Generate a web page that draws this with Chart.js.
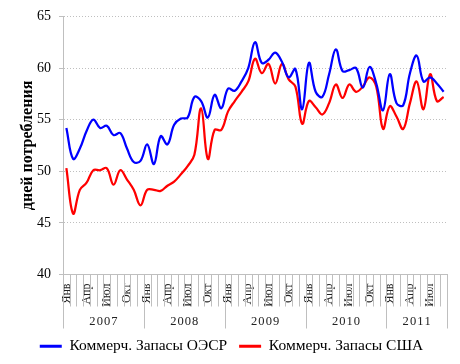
<!DOCTYPE html>
<html>
<head>
<meta charset="utf-8">
<script src="https://cdn.jsdelivr.net/npm/chart.js@4/dist/chart.umd.min.js"></script>
<style>
  html, body { margin: 0; padding: 0; background: #fff; }
</style>
</head>
<body>
<canvas id="chart" width="460" height="364"></canvas>
<script>
// month / year tick labels
var months = ['Янв', 'Фев', 'Мар', 'Апр', 'Май', 'Июн', 'Июл', 'Авг', 'Сен', 'Окт', 'Ноя', 'Дек'];
var years = ['2007', '2008', '2009', '2010', '2011'];
var monthsIn2011 = 9;

// series values, days of consumption (Jan 2007 .. Sep 2011)
var oecdStocks = [
    54.2, 51.2, 52.2, 53.9, 55.0, 54.2, 54.4, 53.5, 53.7, 52.2, 50.9, 51.0,
    52.6, 50.7, 53.4, 52.6, 54.5, 55.1, 55.2, 57.2, 56.8, 55.2, 57.4, 56.1,
    58.0, 57.8, 58.7, 60.0, 62.5, 60.5, 60.8, 61.5, 60.6, 59.1, 59.9, 56.0,
    60.5, 57.7, 57.2, 59.4, 61.8, 59.7, 59.8, 60.0, 58.1, 60.1, 58.5, 55.9,
    59.4, 56.6, 56.4, 59.5, 61.2, 58.7, 59.1, 58.5, 57.7
];
var usStocks = [
    50.3, 45.9, 48.2, 48.9, 50.1, 50.1, 50.3, 48.7, 50.1, 49.2, 48.2, 46.7,
    48.2, 48.2, 48.1, 48.6, 49.0, 49.7, 50.5, 51.6, 56.1, 51.2, 54.0, 54.0,
    55.8, 56.8, 57.7, 58.7, 60.9, 59.5, 60.4, 58.5, 60.4, 58.9, 58.2, 54.6,
    56.8, 56.2, 55.5, 56.6, 58.4, 57.1, 58.4, 57.7, 58.2, 59.1, 58.2, 54.1,
    56.3, 55.3, 54.1, 56.6, 58.7, 56.0, 59.4, 56.8, 57.2
];

var labels = [];
years.forEach(function (y, yi) {
    var n = (yi === years.length - 1) ? monthsIn2011 : 12;
    for (var m = 0; m < n; m++) labels.push(months[m] + ' ' + y);
});

var gridGray = '#bfbfbf';
var serif = '"Liberation Serif", "DejaVu Serif", serif';

// month separators, year separators and year labels under the axis
var yearAxis = {
    id: 'yearAxis',
    afterLayout: function (chart) {
        // legend sits a little right of centre in the original
        chart.legend.left += 8;
        chart.legend.right += 8;
    },
    afterDraw: function (chart) {
        var ctx = chart.ctx;
        var xs = chart.scales.x;
        var bottom = chart.chartArea.bottom;
        var half = (xs.getPixelForValue(1) - xs.getPixelForValue(0)) / 2;
        ctx.save();
        ctx.strokeStyle = gridGray;
        ctx.lineWidth = 1;
        for (var i = 0; i <= labels.length; i++) {
            var x = Math.round(xs.getPixelForValue(i) - half) + 0.5;
            var len = (i % 12 === 0 || i === labels.length) ? 54 : 32;
            ctx.beginPath();
            ctx.moveTo(x, bottom);
            ctx.lineTo(x, bottom + len);
            ctx.stroke();
        }
        ctx.fillStyle = '#222';
        ctx.font = '12.5px ' + serif;
        ctx.textAlign = 'center';
        ctx.textBaseline = 'middle';
        years.forEach(function (y, yi) {
            var first = yi * 12;
            var last = Math.min(first + 11, labels.length - 1);
            var cx = (xs.getPixelForValue(first) + xs.getPixelForValue(last)) / 2;
            ctx.fillText(y.split('').join(String.fromCharCode(8202)), cx, bottom + 47);
        });
        ctx.restore();
    }
};

var ctx = document.getElementById('chart');
var chart = new Chart(ctx, {
    type: 'line',
    data: {
        labels: labels,
        datasets: [{
            label: 'Коммерч. Запасы ОЭСР',
            data: oecdStocks,
            borderColor: '#0000ff',
            backgroundColor: '#0000ff',
            borderWidth: 2.25,
            pointRadius: 0,
            tension: 0.4,
            fill: false
        }, {
            label: 'Коммерч. Запасы США',
            data: usStocks,
            borderColor: '#ff0000',
            backgroundColor: '#ff0000',
            borderWidth: 2.25,
            pointRadius: 0,
            tension: 0.4,
            fill: false
        }]
    },
    plugins: [yearAxis],
    options: {
        responsive: false,
        animation: false,
        layout: { padding: { top: 15, right: 13, left: 0, bottom: 0 } },
        plugins: {
            tooltip: { enabled: false },
            legend: {
                position: 'bottom',
                labels: {
                    font: { family: serif, size: 15.5 },
                    color: '#000',
                    boxWidth: 22,
                    boxHeight: 3,
                    padding: 12,
                    generateLabels: function (c) {
                        return c.data.datasets.map(function (ds, i) {
                            return {
                                text: ds.label,
                                fillStyle: ds.borderColor,
                                strokeStyle: ds.borderColor,
                                lineWidth: 0,
                                hidden: false,
                                datasetIndex: i
                            };
                        });
                    }
                }
            }
        },
        scales: {
            x: {
                offset: true,
                grid: { drawOnChartArea: false, drawTicks: false },
                border: { display: true, color: gridGray },
                ticks: {
                    autoSkip: false,
                    maxRotation: 90,
                    minRotation: 90,
                    padding: 9,
                    color: '#222',
                    font: { family: serif, size: 12 },
                    callback: function (v, i) {
                        return i % 3 === 0 ? months[i % 12] : '';
                    }
                },
                afterFit: function (s) {
                    s.height = 52;
                    s.paddingLeft = 0;
                    s.paddingRight = 0;
                }
            },
            y: {
                min: 40,
                max: 65,
                ticks: {
                    stepSize: 5,
                    padding: 8,
                    color: '#000',
                    font: { family: serif, size: 14 }
                },
                grid: { color: gridGray, tickLength: 4, tickColor: gridGray },
                border: { display: true, color: gridGray, dash: [1, 2] },
                title: {
                    display: true,
                    text: 'дней потребления',
                    color: '#000',
                    font: { family: serif, size: 16, weight: 'bold' },
                    padding: { top: 18, bottom: 0 }
                },
                afterFit: function (s) { s.width = 63; }
            }
        }
    }
});
</script>
</body>
</html>
